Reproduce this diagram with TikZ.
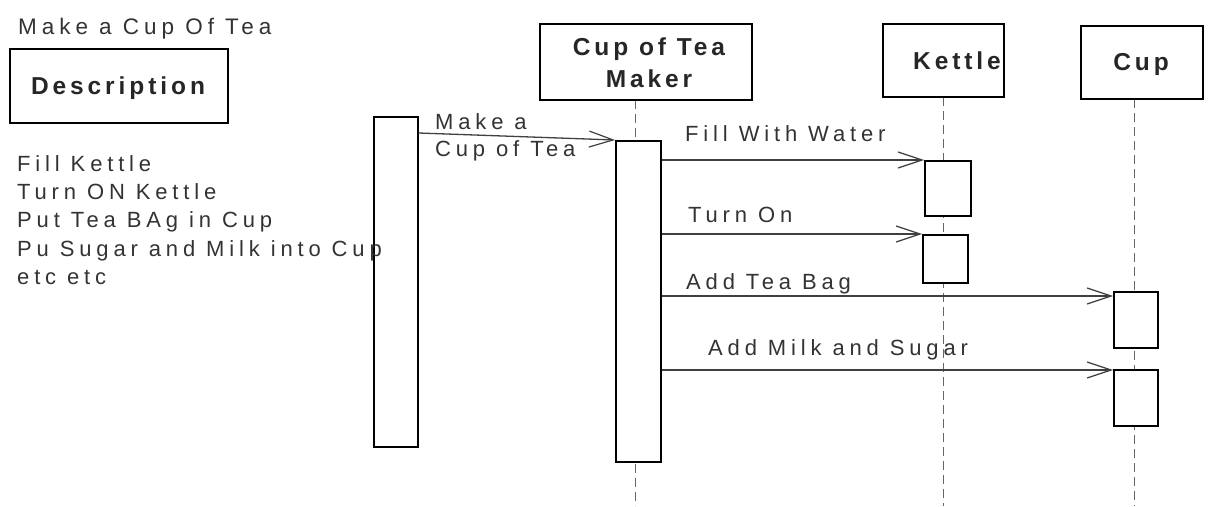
\documentclass[tikz,border=0pt]{standalone}
\usepackage{fontspec}
\setmainfont{Liberation Sans}
\newfontfamily\lblfont{Liberation Sans}[LetterSpace=22]
\newfontfamily\hdrfont{Liberation Sans}[LetterSpace=16]
\usetikzlibrary{arrows.meta}
\tikzset{
  box/.style={draw, line width=1.6pt, inner sep=0pt},
  lbl/.style={anchor=base west, inner sep=0pt, font=\lblfont\fontsize{22}{26}\selectfont, text=black!80},
  hdr/.style={anchor=base, inner sep=0pt, font=\hdrfont\fontsize{24.5}{28}\selectfont\bfseries, text=black!85},
  msg/.style={line width=1.3pt, black!75, -{Straight Barb[length=24pt,width=16pt,line width=1.2pt]}},
  life/.style={line width=0.9pt, black!60, dash pattern=on 9pt off 5pt},
}
\begin{document}
\begin{tikzpicture}[x=1pt,y=-1pt]
\useasboundingbox (0,0) rectangle (1209,506);
% lifelines
\coordinate (mt) at (635,100); \coordinate (mb) at (635,506);
\coordinate (kt1) at (943,97); \coordinate (kb) at (943,506);
\coordinate (ct) at (1134,99); \coordinate (cb) at (1134,506);
\draw[life] (mt) -- (mb);
\draw[life] (kt1) -- (kb);
\draw[life] (ct) -- (cb);
% activation bars
\node[box, fill=white, anchor=north west, minimum width=44pt, minimum height=330pt] (lbar) at (373,116) {};
\node[box, fill=white, anchor=north west, minimum width=45pt, minimum height=321pt] (mbar) at (615,140) {};
\node[box, fill=white, anchor=north west, minimum width=46pt, minimum height=55pt] (ka1) at (924,160) {};
\node[box, fill=white, anchor=north west, minimum width=45pt, minimum height=48pt] (ka2) at (922,234) {};
\node[box, fill=white, anchor=north west, minimum width=44pt, minimum height=56pt] (ca1) at (1113,291) {};
\node[box, fill=white, anchor=north west, minimum width=44pt, minimum height=56pt] (ca2) at (1113,369) {};
% title and description
\node[lbl, font=\lblfont\fontsize{22.5}{26}\selectfont] (title) at (18,34) {Make a Cup Of Tea};
\draw[box] (10,49) rectangle (228,123);
\node[hdr] (desc) at (118,94) {Description};
\node[lbl] (l1) at (17,171) {Fill Kettle};
\node[lbl] (l2) at (17,199) {Turn ON Kettle};
\node[lbl] (l3) at (17,227) {Put Tea BAg in Cup};
\node[lbl] (l4) at (17,256) {Pu Sugar and Milk into Cup};
\node[lbl] (l5) at (17,284) {etc etc};
% heads
\draw[box] (540,24) rectangle (752,100);
\node[hdr] (mk1) at (649,55) {Cup of Tea};
\node[hdr] (mk2) at (649,87) {Maker};
\draw[box] (883,24) rectangle (1004,97);
\node[hdr] (kt) at (957,69) {Kettle};
\draw[box] (1081,26) rectangle (1203,99);
\node[hdr] (cp) at (1141,70) {Cup};
% messages
\draw[msg] ([yshift=-17pt]lbar.north east) -- (mbar.north west);
\node[lbl] (m1a) at (435,129) {Make a};
\node[lbl] (m1b) at (435,156) {Cup of Tea};
\draw[msg] (mbar.east |- ka1.north) -- (ka1.north west);
\node[lbl] (m2) at (685,141) {Fill With Water};
\draw[msg] (mbar.east |- ka2.north) -- (ka2.north west);
\node[lbl] (m3) at (688,222) {Turn On};
\draw[msg] ([yshift=-5pt]mbar.east |- ca1.north) -- ([yshift=-5pt]ca1.north west);
\node[lbl] (m4) at (686,289) {Add Tea Bag};
\draw[msg] ([yshift=-1pt]mbar.east |- ca2.north) -- ([yshift=-1pt]ca2.north west);
\node[lbl] (m5) at (708,355) {Add Milk and Sugar};
\end{tikzpicture}
\end{document}
